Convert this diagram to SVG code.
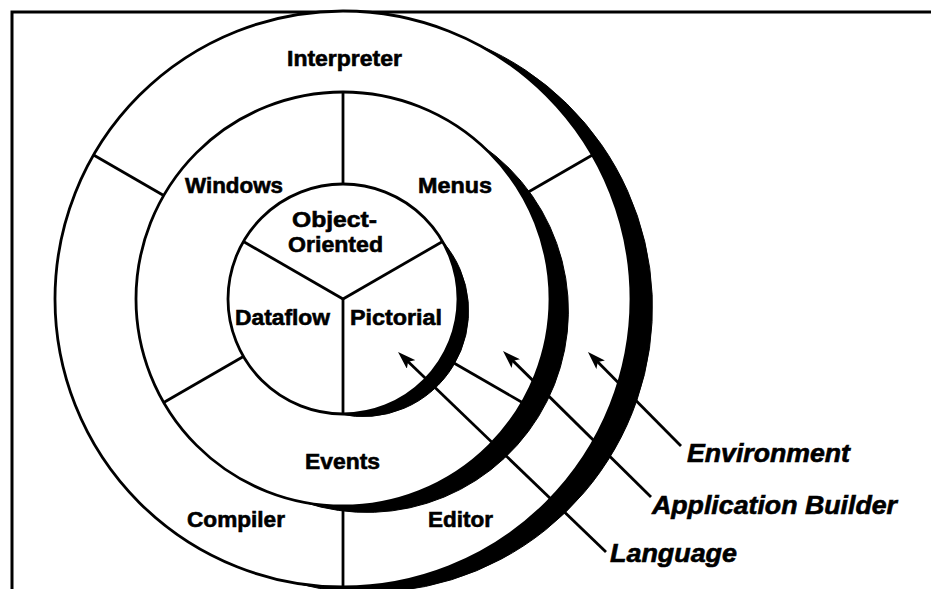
<svg xmlns="http://www.w3.org/2000/svg" width="931" height="589" viewBox="0 0 931 589">
<style>
.ring{fill:#fff;stroke:#000;stroke-width:2.8}
.shadow{fill:#000;stroke:#000;stroke-width:1}
.div{stroke:#000;stroke-width:2.8;fill:none}
.frame{stroke:#000;stroke-width:3;fill:none}
.lbl{font-family:"Liberation Sans",Arial,Helvetica,sans-serif;font-weight:bold;font-size:22px;fill:#000;stroke:#000;stroke-width:0.6;text-anchor:middle}
.ital{font-family:"Liberation Sans",Arial,Helvetica,sans-serif;font-weight:bold;font-style:italic;font-size:25px;fill:#000;stroke:#000;stroke-width:0.6}
.conn{stroke:#000;stroke-width:2.8;fill:none}
</style>
<defs>
<marker id="ah" viewBox="0 0 18 12" refX="10" refY="6" markerWidth="18" markerHeight="12" markerUnits="userSpaceOnUse" orient="auto">
<path d="M0,0 L18,6 L0,12 L4,6 z" fill="#000"/>
</marker>
</defs>
<rect width="931" height="589" fill="#fff"/>
<g id="frame">
<path class="frame" d="M931,12 L12,12 L12,589"/>
</g>
<g id="environment-ring">
<path class="shadow" d="M478.2,44.7 A288,288 0 0 1 293.0,582.6 A285.1,285.1 0 0 0 478.2,44.7 Z"/>
<circle class="ring" cx="343" cy="299" r="288"/>
<line class="div" x1="163.7" y1="195.5" x2="93.6" y2="155"/>
<line class="div" x1="522.3" y1="195.5" x2="592.4" y2="155"/>
<line class="div" x1="343" y1="506" x2="343" y2="587"/>
</g>
<g id="builder-ring">
<path class="shadow" d="M481.5,145.2 A207,207 0 0 1 303.5,502.2 A201.5,201.5 0 0 0 481.5,145.2 Z"/>
<circle class="ring" cx="343" cy="299" r="207"/>
<line class="div" x1="343" y1="184" x2="343" y2="92"/>
<line class="div" x1="243.4" y1="356.5" x2="163.7" y2="402.5"/>
<line class="div" x1="442.6" y1="356.5" x2="522.3" y2="402.5"/>
</g>
<g id="language-ring">
<path class="shadow" d="M442.6,241.5 A115,115 0 0 1 339.0,413.9 A105.7,105.7 0 0 0 442.6,241.5 Z"/>
<circle class="ring" cx="343" cy="299" r="115"/>
<line class="div" x1="343" y1="299" x2="442.6" y2="241.5"/>
<line class="div" x1="343" y1="299" x2="243.4" y2="241.5"/>
<line class="div" x1="343" y1="299" x2="343" y2="414"/>
</g>
<g id="interpreter"><text class="lbl" x="344.5" y="66" textLength="115" lengthAdjust="spacingAndGlyphs">Interpreter</text></g>
<g id="compiler"><text class="lbl" x="236" y="527" textLength="98" lengthAdjust="spacingAndGlyphs">Compiler</text></g>
<g id="editor"><text class="lbl" x="460.5" y="527" textLength="65" lengthAdjust="spacingAndGlyphs">Editor</text></g>
<g id="windows"><text class="lbl" x="234" y="193" textLength="98" lengthAdjust="spacingAndGlyphs">Windows</text></g>
<g id="menus"><text class="lbl" x="455" y="193" textLength="74" lengthAdjust="spacingAndGlyphs">Menus</text></g>
<g id="events"><text class="lbl" x="342.5" y="469" textLength="75" lengthAdjust="spacingAndGlyphs">Events</text></g>
<g id="object-oriented"><text class="lbl" x="334.5" y="227" textLength="85" lengthAdjust="spacingAndGlyphs">Object-</text><text class="lbl" x="335.5" y="252" textLength="95" lengthAdjust="spacingAndGlyphs">Oriented</text></g>
<g id="dataflow"><text class="lbl" x="282.5" y="325" textLength="95" lengthAdjust="spacingAndGlyphs">Dataflow</text></g>
<g id="pictorial"><text class="lbl" x="396" y="325" textLength="92" lengthAdjust="spacingAndGlyphs">Pictorial</text></g>
<g id="environment-label"><text class="ital" x="687" y="462" textLength="163" lengthAdjust="spacingAndGlyphs">Environment</text></g>
<g id="builder-label"><text class="ital" x="652" y="514" textLength="245" lengthAdjust="spacingAndGlyphs">Application Builder</text></g>
<g id="language-label"><text class="ital" x="610" y="562" textLength="127" lengthAdjust="spacingAndGlyphs">Language</text></g>
<g id="connectors">
<line class="conn" x1="681" y1="446" x2="593.6" y2="357.7" marker-end="url(#ah)"/>
<line class="conn" x1="651" y1="497" x2="508.7" y2="356.6" marker-end="url(#ah)"/>
<line class="conn" x1="606" y1="552" x2="403.8" y2="357.5" marker-end="url(#ah)"/>
</g>
</svg>
